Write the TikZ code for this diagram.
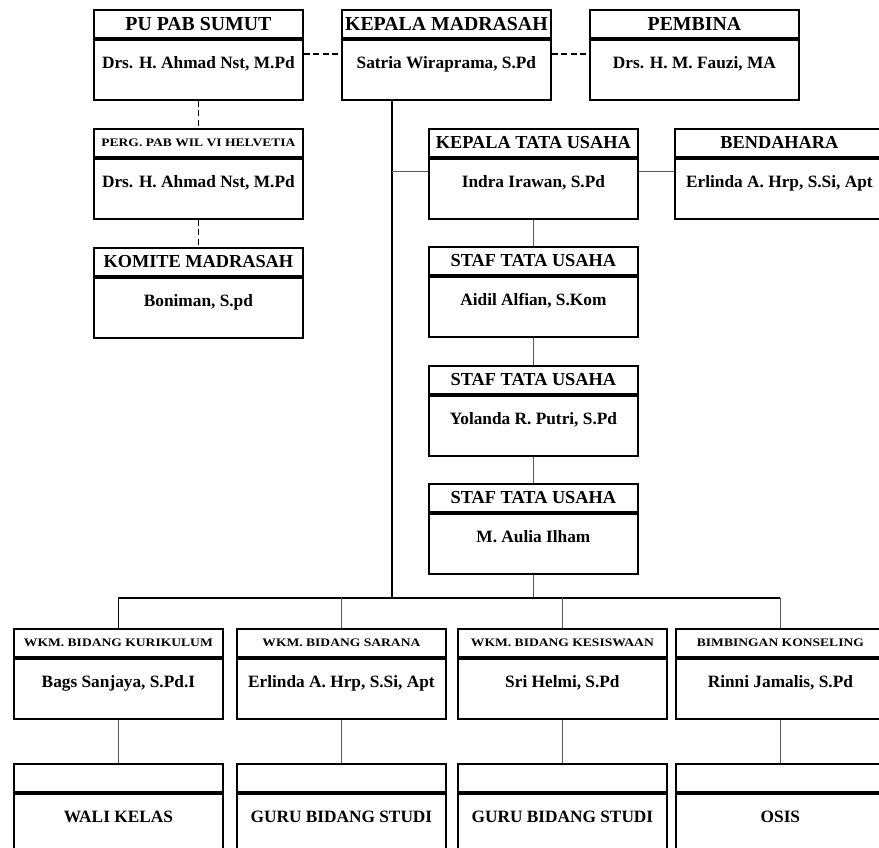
\documentclass[tikz,border=0pt]{standalone}
\usepackage{fontspec}
\setmainfont{Liberation Serif}
\newfontfamily\widefont[FakeStretch=1.18]{Liberation Serif}
\usetikzlibrary{calc}

\def\boxW{209}
\def\headH{28}
\def\bodyH{60}

% one unit: header on top, name below
\newcommand{\orgunit}[6][]{%
  \node[headbox, #1] (#2-h) at (#3,#4) {#5};
  \node[bodybox] (#2) at (#2-h.south) {#6};
  \draw[divider] (#2-h.south west) -- (#2-h.south east);
}

\begin{document}
\begin{tikzpicture}[x=1pt, y=-1pt,
    headbox/.style={draw, line width=1.8pt, anchor=north west, inner sep=0pt,
      minimum width=\boxW pt, minimum height=\headH pt,
      font=\fontsize{18.3}{20}\selectfont\bfseries},
    bodybox/.style={draw, line width=1.8pt, anchor=north, inner sep=0pt,
      minimum width=\boxW pt, minimum height=\bodyH pt,
      text height=14pt, text depth=16pt,
      font=\fontsize{17.3}{19}\selectfont\bfseries},
    bighead/.style={font=\fontsize{19.8}{21}\selectfont\bfseries},
    smallhead/.style={font=\widefont\fontsize{11.5}{13}\selectfont\bfseries},
    divider/.style={line width=3.6pt},
    dashlink/.style={line width=1.8pt, dash pattern=on 6pt off 3.5pt},
    mainlink/.style={line width=1.8pt},
    sublink/.style={line width=1pt, black!65}]
        \useasboundingbox (0,0) rectangle (879,847);

        \orgunit[bighead]{pu}{93}{9}{PU PAB SUMUT}{Drs. H. Ahmad Nst, M.Pd}
        \orgunit[bighead]{kepala}{341}{9}{KEPALA MADRASAH}{Satria Wiraprama, S.Pd}
        \orgunit[bighead]{pembina}{589}{9}{PEMBINA}{Drs. H. M. Fauzi, MA}
        \orgunit[smallhead]{perg}{93}{128}{PERG. PAB WIL VI HELVETIA}{Drs. H. Ahmad Nst, M.Pd}
        \orgunit{komite}{93}{247}{KOMITE MADRASAH}{Boniman, S.pd}

        \orgunit{ktu}{428}{128}{KEPALA TATA USAHA}{Indra Irawan, S.Pd}
        \orgunit{bendahara}{674}{128}{BENDAHARA}{Erlinda A. Hrp, S.Si, Apt}
        \orgunit{staf1}{428}{246}{STAF TATA USAHA}{Aidil Alfian, S.Kom}
        \orgunit{staf2}{428}{365}{STAF TATA USAHA}{Yolanda R. Putri, S.Pd}
        \orgunit{staf3}{428}{483}{STAF TATA USAHA}{M. Aulia Ilham}

        \coordinate (trunk) at (392,598);

        \foreach \n/\x/\hd/\nm/\lo in {
            kur/13/{WKM. BIDANG KURIKULUM}/{Bags Sanjaya, S.Pd.I}/{WALI KELAS},
            sar/236/{WKM. BIDANG SARANA}/{Erlinda A. Hrp, S.Si, Apt}/{GURU BIDANG STUDI},
            sis/457/{WKM. BIDANG KESISWAAN}/{Sri Helmi, S.Pd}/{GURU BIDANG STUDI},
            bk/675/{BIMBINGAN KONSELING}/{Rinni Jamalis, S.Pd}/{OSIS}} {
            \orgunit[smallhead]{\n}{\x}{628}{\hd}{\nm}
            \orgunit{\n-lo}{\x}{763}{}{\lo}
            \draw[sublink] (\n.south) -- (\n-lo-h.north);
        }

        \coordinate (pu-in) at ([yshift=-15.5pt]pu-h.south east);
        \coordinate (kepala-in) at ([yshift=-15.5pt]kepala-h.south east);
        \coordinate (ktu-in) at ([yshift=-14pt]ktu-h.south west);

        \draw[dashlink] (pu-in) -- (pu-in -| kepala.west);
        \draw[dashlink] (kepala-in) -- (kepala-in -| pembina.west);
        \draw[dashlink] (pu.south) -- (perg-h.north);
        \draw[dashlink] (perg.south) -- (komite-h.north);

        \draw[mainlink] (kepala.south -| trunk) -- (trunk);
        \draw[sublink] (ktu-in -| trunk) -- (ktu-in);
        \draw[sublink] (ktu-in -| ktu.east) -- (ktu-in -| bendahara.west);
        \draw[sublink] (ktu.south) -- (staf1-h.north);
        \draw[sublink] (staf1.south) -- (staf2-h.north);
        \draw[sublink] (staf2.south) -- (staf3-h.north);
        \draw[sublink] (staf3.south) -- (staf3.south |- trunk);

        \draw[mainlink] (kur-h.north) |- (bk-h.north |- trunk);
        \draw[sublink] (sar-h.north |- trunk) -- (sar-h.north);
        \draw[sublink] (sis-h.north |- trunk) -- (sis-h.north);
        \draw[sublink] (bk-h.north |- trunk) -- (bk-h.north);
      \end{tikzpicture}
\end{document}
